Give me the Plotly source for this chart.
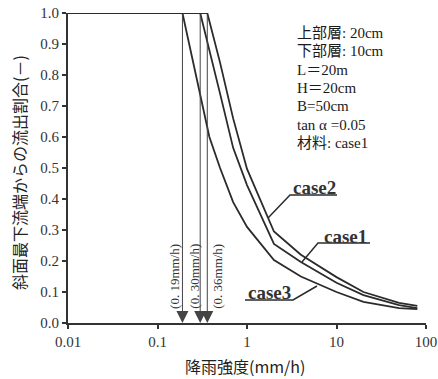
import math
import plotly.graph_objects as go

# ---- data ----
rain_case1 = [0.01, 0.30, 0.5, 0.7, 1, 2, 4, 10, 20, 50, 80]
ratio_case1 = [1.0, 1.0, 0.74, 0.565, 0.445, 0.255, 0.197, 0.13, 0.09, 0.058, 0.048]

rain_case2 = [0.01, 0.36, 0.5, 0.7, 1, 2, 4, 10, 20, 50, 80]
ratio_case2 = [1.0, 1.0, 0.84, 0.66, 0.497, 0.295, 0.22, 0.148, 0.10, 0.065, 0.055]

rain_case3 = [0.01, 0.19, 0.38, 0.5, 0.7, 1, 2, 4, 10, 20, 50, 80]
ratio_case3 = [1.0, 1.0, 0.60, 0.50, 0.39, 0.31, 0.203, 0.15, 0.10, 0.068, 0.048, 0.045]

threshold_rain = [0.19, 0.30, 0.36]
threshold_labels = ["(0. 19mm/h)", "(0. 30mm/h)", "(0. 36mm/h)"]
threshold_shift = [-8, -6, 10]

x_ticks = [0.01, 0.1, 1, 10, 100]
x_ticktext = ["0.01", "0.1", "1", "10", "100"]

info_lines = ["上部層: 20cm", "下部層: 10cm", "L＝20m", "H＝20cm", "B=50cm", "tan α =0.05", "材料: case1"]

SERIF = "Liberation Serif, Times New Roman, Noto Sans CJK JP, serif"
JP = "Noto Sans CJK JP, sans-serif"
LINE = "#2b2b2b"

fig = go.Figure()
for xs, ys, name in [(rain_case1, ratio_case1, "case1"),
                     (rain_case2, ratio_case2, "case2"),
                     (rain_case3, ratio_case3, "case3")]:
    fig.add_trace(go.Scatter(x=xs, y=ys, mode="lines", name=name,
                             line=dict(color=LINE, width=1.8), showlegend=False))

annotations = []
# vertical arrows at threshold rainfall
for t, lab, sh in zip(threshold_rain, threshold_labels, threshold_shift):
    annotations.append(dict(x=math.log10(t), y=0, xref="x", yref="y",
                            ax=math.log10(t), ay=1.0, axref="x", ayref="y",
                            text="", showarrow=True, arrowhead=2, arrowsize=2.4,
                            arrowwidth=1, arrowcolor="#444"))
    annotations.append(dict(x=math.log10(t), y=0.15, xref="x", yref="y",
                            text=lab, showarrow=False, textangle=-90, xshift=sh,
                            font=dict(family=SERIF, size=13, color="#333")))

# info block
y0 = 0.935
for i, s in enumerate(info_lines):
    annotations.append(dict(x=0.634, y=y0 - i * 0.059, xref="paper", yref="paper",
                            xanchor="left", yanchor="middle", text=s, showarrow=False,
                            font=dict(family=SERIF, size=15, color="#1a1a1a")))

# case labels
for txt, px, py in [("case2", 0.6872, 0.4355), ("case1", 0.7765, 0.2806), ("case3", 0.5642, 0.100)]:
    annotations.append(dict(x=px, y=py, xref="paper", yref="paper", text="<b>" + txt + "</b>",
                            showarrow=False, xanchor="center", yanchor="middle",
                            font=dict(family=SERIF, size=19, color="#333")))

# axis titles
annotations.append(dict(x=0.494, y=-0.139, xref="paper", yref="paper", text="降雨強度(mm/h)",
                        showarrow=False, xanchor="center", yanchor="middle",
                        font=dict(family=JP, size=16, color="#222")))
annotations.append(dict(x=-0.137, y=0.487, xref="paper", yref="paper",
                        text="斜面最下流端からの流出割合(－)", textangle=-90,
                        showarrow=False, xanchor="center", yanchor="middle",
                        font=dict(family=JP, size=16, color="#222")))

shapes = []
for pts in [[(0.5587, 0.3387), (0.6201, 0.4129), (0.7514, 0.4129)],
            [(0.6536, 0.1968), (0.6983, 0.2581), (0.8436, 0.2581)],
            [(0.6955, 0.1194), (0.6285, 0.0742), (0.4944, 0.0742)]]:
    path = "M " + " L ".join(f"{x},{y}" for x, y in pts)
    shapes.append(dict(type="path", xref="paper", yref="paper", path=path,
                       line=dict(color=LINE, width=1.5)))

fig.update_layout(
    width=438, height=379,
    margin=dict(l=68, r=12, t=13, b=56, autoexpand=False),
    paper_bgcolor="white", plot_bgcolor="white",
    annotations=annotations, shapes=shapes,
    xaxis=dict(type="log", range=[-2, 2], tickvals=x_ticks, ticktext=x_ticktext,
               automargin=False,
               showline=True, linewidth=2, linecolor="#333", ticks="outside",
               ticklen=4, tickwidth=2, tickcolor="#333", showgrid=False, zeroline=False,
               tickfont=dict(family=SERIF, size=15, color="#333")),
    yaxis=dict(range=[0, 1], dtick=0.1, tickformat=".1f", automargin=False,
               showline=True, linewidth=2, linecolor="#333", ticks="outside",
               ticklen=4, tickwidth=2, tickcolor="#333", showgrid=False, zeroline=False,
               tickfont=dict(family=SERIF, size=15, color="#333")),
)

# remove the page's default body margin so the figure fills the window exactly
fig.write_html("out.html", config={"displayModeBar": False},
               post_script="document.body.style.margin='0';")
